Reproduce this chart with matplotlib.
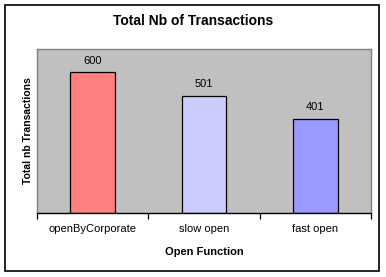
import matplotlib.pyplot as plt
from matplotlib.patches import Rectangle

categories = ['openByCorporate', 'slow open', 'fast open']
values = [600, 501, 401]
bar_colors = ['#FF8080', '#CCCCFF', '#9999FF']

W, H = 386, 277
fig = plt.figure(figsize=(W / 100, H / 100), dpi=100)
plt.rcParams['font.family'] = ['Liberation Sans', 'DejaVu Sans']

# outer chart border
fig.patches.append(Rectangle((5 / W, 1 - 271 / H), 374 / W, 266 / H,
                             transform=fig.transFigure, fill=False,
                             edgecolor='black', linewidth=1.2))

ax = fig.add_axes([37 / W, 1 - 213 / H, 334 / W, 164 / H])
ax.set_facecolor('#C0C0C0')
x = range(len(categories))
ax.bar(x, values, width=0.4, color=bar_colors, edgecolor='black', linewidth=0.9)
for i, v in enumerate(values):
    ax.text(i, v + 28, str(v), ha='center', va='bottom', fontsize=8)

ax.set_xlim(-0.5, 2.5)
ax.set_ylim(0, 700)
ax.set_yticks([])
ax.set_xticks([-0.5, 0.5, 1.5, 2.5])
ax.set_xticklabels([])
ax.set_xticks(list(x), categories, minor=True)
ax.tick_params(axis='x', which='major', length=4, width=0.9, direction='out')
ax.tick_params(axis='x', which='minor', length=0, pad=8, labelsize=8)
for s in ['top', 'right', 'left']:
    ax.spines[s].set_color('#808080')
    ax.spines[s].set_linewidth(1.0)
ax.spines['bottom'].set_color('black')
ax.spines['bottom'].set_linewidth(1.0)

ax.set_xlabel('Open Function', fontsize=8, fontweight='bold', labelpad=9)
ax.set_ylabel('Total nb Transactions', fontsize=7.5, fontweight='bold', labelpad=3)
fig.text(193 / W, 1 - 21 / H, 'Total Nb of Transactions', ha='center', va='center',
         fontsize=10, fontweight='bold')

fig.savefig('out.png', dpi=100)
